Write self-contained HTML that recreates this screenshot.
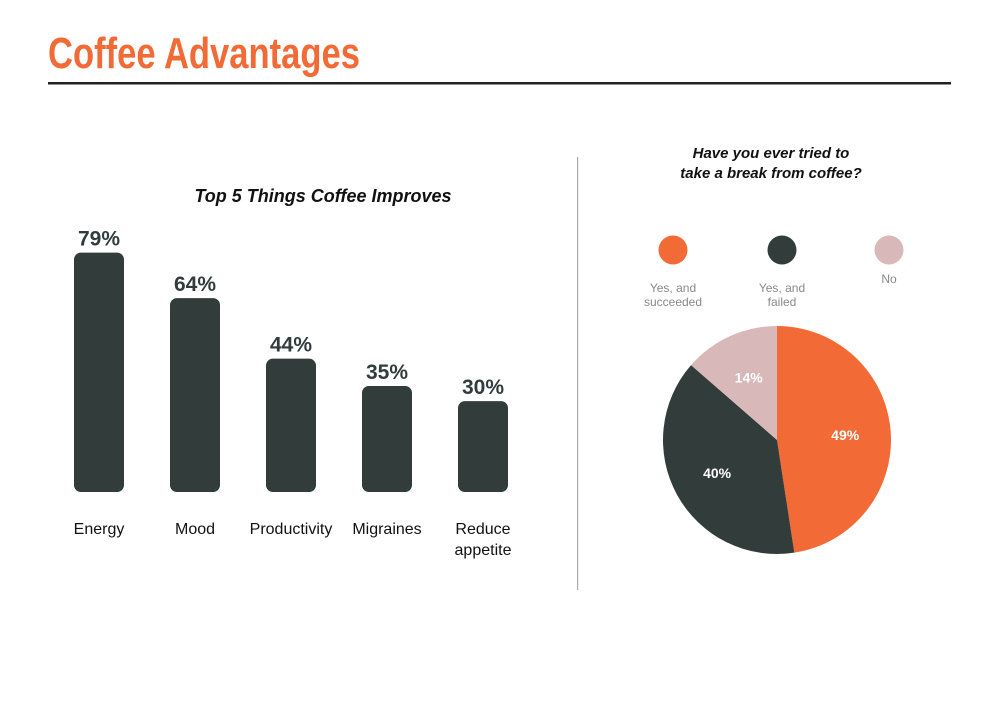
<!DOCTYPE html>
<html><head><meta charset="utf-8"><style>
body{margin:0;background:#fff;width:1000px;height:701px;overflow:hidden;font-family:"Liberation Sans",sans-serif;}
svg{display:block}
</style></head><body>
<svg width="1000" height="701">
<text x="48" y="68" font-size="44" font-weight="bold" fill="#F26A35" textLength="312" lengthAdjust="spacingAndGlyphs">Coffee Advantages</text>
<rect x="48" y="82" width="903" height="2.5" fill="#222"/>
<rect x="577" y="157" width="1.2" height="433" fill="#aaa"/>
<text x="323" y="202" font-size="18" font-weight="bold" font-style="italic" text-anchor="middle" fill="#111">Top 5 Things Coffee Improves</text>
<g id="bars"></g>
<text x="771" y="158" font-size="15" font-weight="bold" font-style="italic" text-anchor="middle" fill="#111">Have you ever tried to</text>
<text x="771" y="178" font-size="15" font-weight="bold" font-style="italic" text-anchor="middle" fill="#111">take a break from coffee?</text>
<g id="legend"></g>
<g id="pie"></g>
</svg>
<script>
const categories=[["Energy"],["Mood"],["Productivity"],["Migraines"],["Reduce","appetite"]];
const values=[79,64,44,35,30];
const valueLabels=["79%","64%","44%","35%","30%"];
const pieLabels=[["Yes, and","succeeded"],["Yes, and","failed"],["No"]];
const pieValues=[49,40,14];
const pieText=["49%","40%","14%"];
const pieColors=["#F26A35","#323C3B","#D9B8BA"];
const NS="http://www.w3.org/2000/svg";
function mk(t,a,p){const e=document.createElementNS(NS,t);for(const k in a)e.setAttribute(k,a[k]);p.appendChild(e);return e;}
const base=492,scale=3.03;
const xc=i=>99+i*96;
const yv=v=>base-v*scale;
const bars=document.getElementById('bars');
values.forEach((v,i)=>{
 const r=mk('rect',{x:xc(i)-25,y:yv(v),width:50,height:base-yv(v),rx:7,fill:'#323C3B'},bars);
 
 
 const t=mk('text',{x:xc(i),y:yv(v)-7,'font-size':21,'font-weight':'bold','text-anchor':'middle',fill:'#323C3B'},bars);
 t.textContent=valueLabels[i];
 
 
 categories[i].forEach((s,j)=>{
  const l=mk('text',{x:xc(i),y:534+j*21,'font-size':16,'text-anchor':'middle',fill:'#111'},bars);
  l.textContent=s;
  
  
 });
});
const lg=document.getElementById('legend');
const lx=[673,782,889];
pieLabels.forEach((ls,i)=>{
 const c=mk('circle',{cx:lx[i],cy:250,r:14.5,fill:pieColors[i]},lg);
 
 
 const y0=ls.length>1?292:283;
 ls.forEach((s,j)=>{
  const t=mk('text',{x:lx[i],y:y0+j*14,'font-size':12,'text-anchor':'middle',fill:'#888'},lg);
  t.textContent=s;
  
  
 });
});
const pie=document.getElementById('pie');
const cx=777,cy=440,R=114;
const tot=pieValues.reduce((a,b)=>a+b,0);
let a0=0;
pieValues.forEach((v,i)=>{
 const a1=a0+v/tot*2*Math.PI;
 const p=(a)=>[cx+R*Math.sin(a),cy-R*Math.cos(a)];
 const [x0,y0]=p(a0),[x1,y1]=p(a1);
 const large=(a1-a0)>Math.PI?1:0;
 const s=mk('path',{d:`M${cx},${cy}L${x0},${y0}A${R},${R} 0 ${large} 1 ${x1},${y1}Z`,fill:pieColors[i]},pie);
 
 
 const am=(a0+a1)/2,rr=R*0.6;
 const t=mk('text',{x:cx+rr*Math.sin(am),y:cy-rr*Math.cos(am)+5,'font-size':14,'font-weight':'bold','text-anchor':'middle',fill:'#fff'},pie);
 t.textContent=pieText[i];
 
 
 a0=a1;
});
</script>
</body></html>
